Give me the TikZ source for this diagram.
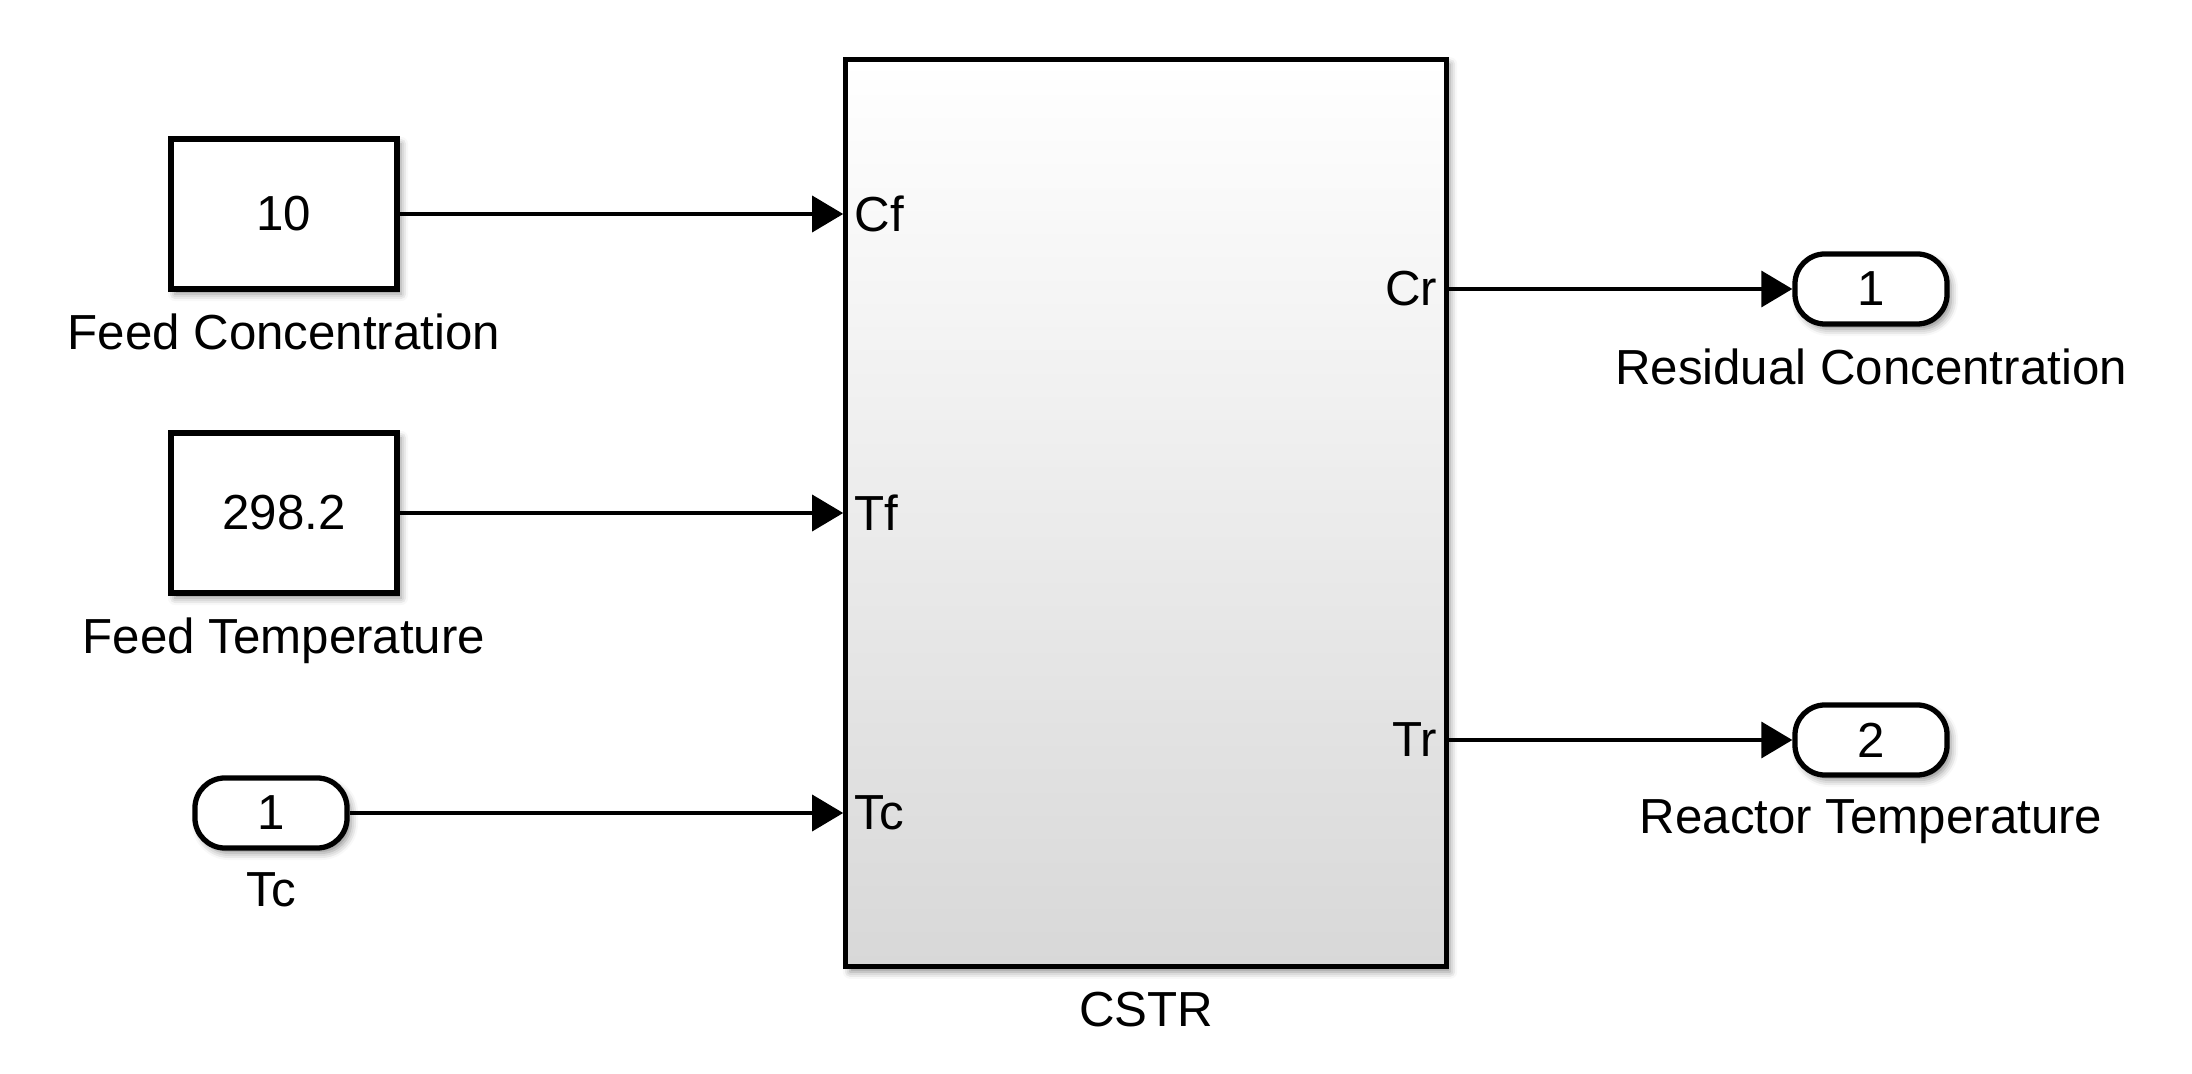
\documentclass[tikz,border=0pt]{standalone}
\usepackage{fontspec}
\setmainfont{Liberation Sans}
\usetikzlibrary{arrows.meta,shadows.blur}
\definecolor{cstrgray}{RGB}{216,216,216}

\begin{document}
\begin{tikzpicture}[x=0.01cm,y=-0.01cm,
    font=\fontsize{14}{16}\selectfont,
    every label/.style={yshift=-0.1cm},
    blk/.style={draw, line width=1.5pt, fill=white,
      blur shadow={shadow xshift=0.04cm, shadow yshift=-0.05cm, shadow blur radius=0.07cm, shadow opacity=45}},
    constblk/.style={blk, minimum width=2.26cm},
    portblk/.style={blk, rounded corners=0.3cm, minimum width=1.52cm, minimum height=0.7cm},
    portlabel/.style={inner sep=0.11cm},
    sig/.style={line width=1pt, -{Triangle[length=0.31cm, width=0.36cm]}}]

      \useasboundingbox (0,0) rectangle (2192,1074);

      % Sources
      \node[constblk, minimum height=1.5cm, label=below:Feed Concentration] (cf) at (284,214) {10};
      \node[constblk, minimum height=1.6cm, label=below:Feed Temperature] (tf) at (284,513) {298.2};
      \node[portblk, label=below:Tc] (tc) at (271,813) {1};

      % Reactor subsystem
      \node[blk, minimum width=6cm, minimum height=9.07cm, top color=white, bottom color=cstrgray,
            label=below:CSTR] (cstr) at (1146,513) {};

      % Outputs
      \node[portblk, label=below:Residual Concentration] (cr) at (1871,289) {1};
      \node[portblk, label=below:Reactor Temperature] (tr) at (1871,740) {2};

      % Port names
      \node[portlabel, anchor=west] (pcf) at (cstr.west |- cf.east) {Cf};
      \node[portlabel, anchor=west] (ptf) at (cstr.west |- tf.east) {Tf};
      \node[portlabel, anchor=west] (ptc) at (cstr.west |- tc.east) {Tc};
      \node[portlabel, anchor=east] (pcr) at (cstr.east |- cr.west) {Cr};
      \node[portlabel, anchor=east] (ptr) at (cstr.east |- tr.west) {Tr};

      % Signals
      \draw[sig] (cf.east) -- (pcf.west);
      \draw[sig] (tf.east) -- (ptf.west);
      \draw[sig] (tc.east) -- (ptc.west);
      \draw[sig] (pcr.east) -- (cr.west);
      \draw[sig] (ptr.east) -- (tr.west);
    \end{tikzpicture}
\end{document}
